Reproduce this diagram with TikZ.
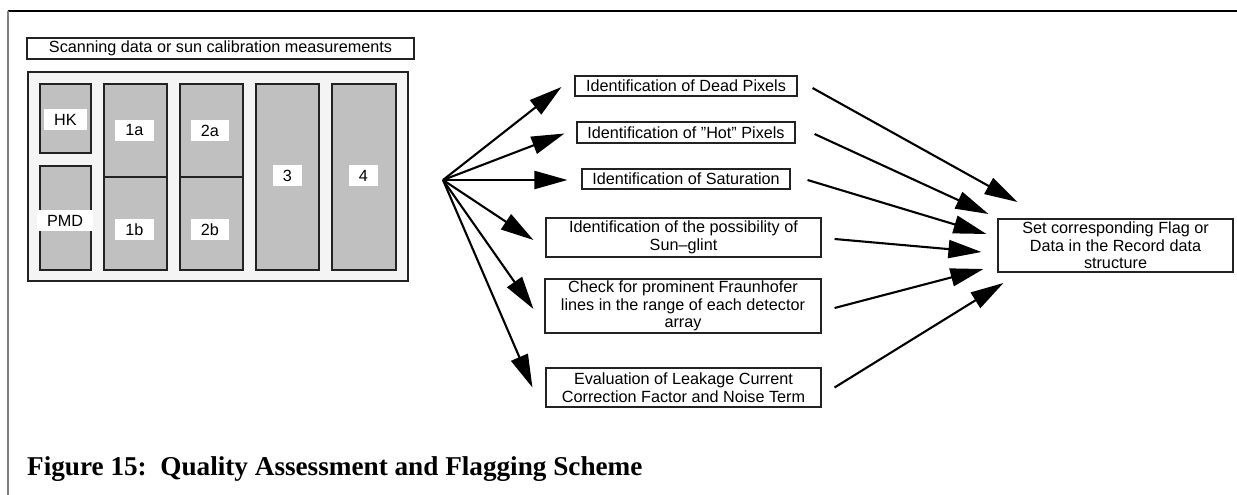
\documentclass[tikz,border=0pt]{standalone}
\usepackage{fontspec}
\setmainfont{Liberation Sans}
\newfontfamily\captionserif{Liberation Serif}
\usetikzlibrary{arrows.meta}

\definecolor{edge}{HTML}{222222}
\definecolor{panelfill}{HTML}{F4F4F4}
\definecolor{cellfill}{HTML}{C0C0C0}
\definecolor{framegray}{HTML}{808080}

\tikzset{
  txt/.style={font=\fontsize{16.2}{17.6}\selectfont, align=center, inner sep=0pt},
  stepbox/.style={txt, draw=edge, line width=1.1pt, fill=white},
  panel/.style={draw=edge, line width=1.1pt, fill=panelfill, inner sep=0pt},
  cell/.style={draw=edge, line width=1.1pt, fill=cellfill, inner sep=0pt},
  tag/.style={txt, fill=white, minimum height=21pt},
  arr/.style={line width=2.1pt, -{Triangle[length=33pt,width=18pt]}},
}

\begin{document}
\begin{tikzpicture}[x=1pt, y=-1pt]
\useasboundingbox (0,0) rectangle (1237,495);

% page frame
\draw[black, line width=1.3pt] (8,11) -- (1237,11);
\draw[framegray, line width=2pt] (8,11) -- (8,495);

% input data block
\node[stepbox, minimum width=387pt, minimum height=21pt] (title) at (220.5,48.5)
  {Scanning data or sun calibration measurements};
\node[panel, minimum width=380pt, minimum height=209pt] (panel) at (218,176.5) {};

\node[cell, minimum width=51pt, minimum height=69pt]  (hk)  at (65.5,118.5) {};
\node[cell, minimum width=51pt, minimum height=104pt] (pmd) at (65.5,218) {};
\node[cell, minimum width=63pt, minimum height=93pt]  (c1a) at (135.5,130.5) {};
\node[cell, minimum width=63pt, minimum height=93pt]  (c1b) at (135.5,223.5) {};
\node[cell, minimum width=63pt, minimum height=93pt]  (c2a) at (211.5,130.5) {};
\node[cell, minimum width=63pt, minimum height=93pt]  (c2b) at (211.5,223.5) {};
\node[cell, minimum width=63pt, minimum height=186pt] (c3)  at (287.5,177) {};
\node[cell, minimum width=64pt, minimum height=186pt] (c4)  at (364,177) {};

\node[tag, minimum width=43pt] (lhk)  at (65.5,119.5) {HK};
\node[tag, minimum width=56pt] (lpmd) at (65,220.5)   {PMD};
\node[tag, minimum width=39pt] (l1a)  at (134.5,130.5) {1a};
\node[tag, minimum width=39pt] (l1b)  at (134.5,229.5) {1b};
\node[tag, minimum width=38pt] (l2a)  at (210,130.5)   {2a};
\node[tag, minimum width=38pt] (l2b)  at (210,229.5)   {2b};
\node[tag, minimum width=29pt] (l3)   at (287.5,175.5) {3};
\node[tag, minimum width=29pt] (l4)   at (363.5,175.5) {4};

% processing steps
\coordinate (hub) at (443,180);
\node[stepbox, minimum width=222pt, minimum height=20pt] (dead) at (686,86)
  {Identification of Dead Pixels};
\node[stepbox, minimum width=218pt, minimum height=21pt] (hot) at (686,132.5)
  {Identification of ”Hot” Pixels};
\node[stepbox, minimum width=208pt, minimum height=20pt] (sat) at (686,179)
  {Identification of Saturation};
\node[stepbox, minimum width=275pt, minimum height=39pt] (sun) at (683.5,237.5)
  {Identification of the possibility of\\Sun–glint};
\node[stepbox, minimum width=276pt, minimum height=54pt] (fraun) at (683,306)
  {Check for prominent Fraunhofer\\lines in the range of each detector\\array};
\node[stepbox, minimum width=275pt, minimum height=39pt] (leak) at (683.5,387.5)
  {Evaluation of Leakage Current\\Correction Factor and Noise Term};

% result
\node[stepbox, minimum width=235pt, minimum height=53pt] (flag) at (1115.5,245.5)
  {Set corresponding Flag or\\Data in the Record data\\structure};

% fan-out to the checks
\draw[arr] (hub) -- ([xshift=-13pt, yshift=-1pt]dead.west);
\draw[arr] (hub) -- ([xshift=-12pt, yshift=-1pt]hot.west);
\draw[arr] (hub) -- ([xshift=-14pt, yshift=-1pt]sat.west);
\draw[arr] (hub) -- ([xshift=-12pt, yshift=-2.5pt]sun.west);
\draw[arr] (hub) -- ([xshift=-11pt, yshift=-3pt]fraun.west);
\draw[arr] (hub) -- ([xshift=-13pt]leak.west);

% fan-in to the record
\draw[arr] ([xshift=15pt, yshift=-2pt]dead.east)  -- ([xshift=20pt, yshift=43.5pt]flag.west);
\draw[arr] ([xshift=19pt, yshift=-1.5pt]hot.east) -- ([xshift=-9pt, yshift=31.5pt]flag.west);
\draw[arr] ([xshift=17pt, yshift=-1pt]sat.east)   -- ([xshift=-11pt, yshift=11.5pt]flag.west);
\draw[arr] ([xshift=13pt, yshift=-1.5pt]sun.east) -- ([xshift=-16pt, yshift=-6.5pt]flag.west);
\draw[arr] ([xshift=13pt, yshift=-2pt]fraun.east) -- ([xshift=-14pt, yshift=-23.5pt]flag.west);
\draw[arr] ([xshift=13pt]leak.east)               -- ([xshift=6pt, yshift=-37.5pt]flag.west);

% caption
\node[anchor=base west, inner sep=0pt, font=\captionserif\bfseries\fontsize{27.2}{30}\selectfont] (cap) at (27,475)
  {Figure 15:\ \ Quality Assessment and Flagging Scheme};
\end{tikzpicture}
\end{document}
